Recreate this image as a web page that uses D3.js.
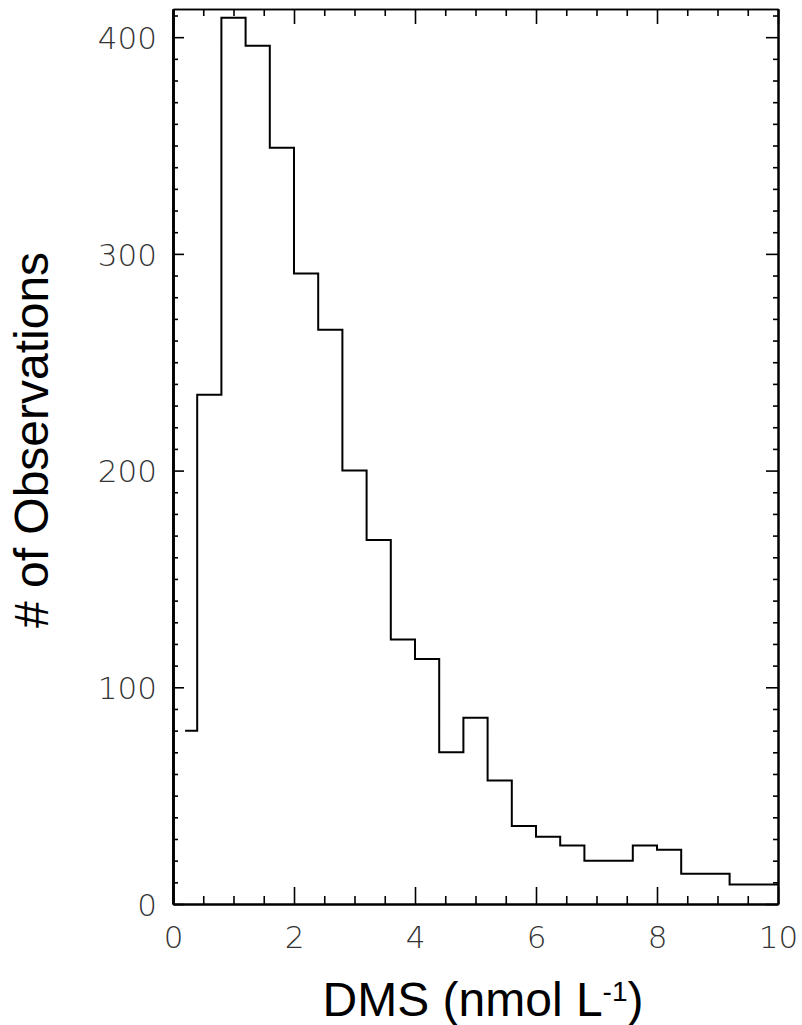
<!DOCTYPE html>
<html>
<head>
<meta charset="utf-8">
<script src="https://cdn.jsdelivr.net/npm/d3@7/dist/d3.min.js"></script>
<style>
  html, body { margin: 0; padding: 0; background: #fff; }
  svg { display: block; }
  .tick-label { font-family: "DejaVu Sans", sans-serif; font-weight: 200; font-size: 31px; fill: #333; }
  .title { font-family: "Liberation Sans", Arial, sans-serif; font-size: 48px; fill: #000; }
</style>
</head>
<body>
<svg id="chart" width="802" height="1025"></svg>
<script>
// DMS concentration histogram: bins of 0.4 nmol/L, counts per bin
const binWidth = 0.4;
const binStarts = [0.0, 0.4, 0.8, 1.2, 1.6, 2.0, 2.4, 2.8, 3.2, 3.6, 4.0, 4.4, 4.8,
                   5.2, 5.6, 6.0, 6.4, 6.8, 7.2, 7.6, 8.0, 8.4, 8.8, 9.2, 9.6];
const counts = [80, 235, 409, 396, 349, 291, 265, 200, 168, 122, 113, 70, 86,
                57, 36, 31, 27, 20, 20, 27, 25, 14, 14, 9, 9];

const xMajorTicks = [0, 2, 4, 6, 8, 10];
const yMajorTicks = [0, 100, 200, 300, 400];
const xDomain = [0, 10];
const yDomain = [0, 413];

const svg = d3.select("#chart");
const plot = { left: 173, right: 778, top: 9, bottom: 904 };

const x = d3.scaleLinear().domain(xDomain).range([plot.left, plot.right]);
const y = d3.scaleLinear().domain(yDomain).range([plot.bottom, plot.top]);

const xMinorTicks = d3.range(0, 10.001, 0.5).filter(v => !xMajorTicks.includes(v));
const yMinorTicks = d3.range(0, 413, 10).filter(v => !yMajorTicks.includes(v));

function styleAxis(g, width) {
  g.select(".domain").attr("stroke", "#000").attr("stroke-width", width);
  g.selectAll(".tick line").attr("stroke", "#000").attr("stroke-width", 1.6);
}

function styleLabels(g, dy) {
  const t = g.selectAll("text").attr("class", "tick-label").attr("fill", null)
    .attr("font-size", null).attr("font-family", null);
  if (dy) t.attr("dy", dy);
}

// bottom axis: labelled majors + minors, ticks pointing inward
const axisBottomG = svg.append("g").attr("transform", `translate(0,${plot.bottom})`);
axisBottomG.append("g")
  .call(d3.axisBottom(x).tickValues(xMinorTicks).tickSize(-8).tickSizeOuter(0).tickFormat(""))
  .call(g => styleAxis(g, 2));
axisBottomG.append("g")
  .call(d3.axisBottom(x).tickValues(xMajorTicks).tickSize(-17).tickSizeOuter(0).tickPadding(22)
    .tickFormat(d3.format("d")))
  .call(g => styleAxis(g, 2))
  .call(g => styleLabels(g));

// top axis: unlabelled
const axisTopG = svg.append("g").attr("transform", `translate(0,${plot.top})`);
axisTopG.append("g")
  .call(d3.axisTop(x).tickValues(xMinorTicks).tickSize(-7).tickSizeOuter(0).tickFormat(""))
  .call(g => styleAxis(g, 1.6));
axisTopG.append("g")
  .call(d3.axisTop(x).tickValues(xMajorTicks).tickSize(-15).tickSizeOuter(0).tickFormat(""))
  .call(g => styleAxis(g, 1.6));

// left axis
const axisLeftG = svg.append("g").attr("transform", `translate(${plot.left},0)`);
axisLeftG.append("g")
  .call(d3.axisLeft(y).tickValues(yMinorTicks).tickSize(-5).tickSizeOuter(0).tickFormat(""))
  .call(g => styleAxis(g, 2.6));
axisLeftG.append("g")
  .call(d3.axisLeft(y).tickValues(yMajorTicks).tickSize(-11).tickSizeOuter(0).tickPadding(16)
    .tickFormat(d3.format("d")))
  .call(g => styleAxis(g, 2.6))
  .call(g => styleLabels(g, "0.36em"));

// right axis: unlabelled
const axisRightG = svg.append("g").attr("transform", `translate(${plot.right},0)`);
axisRightG.append("g")
  .call(d3.axisRight(y).tickValues(yMinorTicks).tickSize(-5).tickSizeOuter(0).tickFormat(""))
  .call(g => styleAxis(g, 2));
axisRightG.append("g")
  .call(d3.axisRight(y).tickValues(yMajorTicks).tickSize(-12).tickSizeOuter(0).tickFormat(""))
  .call(g => styleAxis(g, 2));

// histogram outline as a step line; first step begins at the centre of the first bin
const stepPoints = [];
binStarts.forEach((s, i) => {
  const x0 = i === 0 ? s + binWidth / 2 : s;
  stepPoints.push([x0, counts[i]]);
  stepPoints.push([s + binWidth, counts[i]]);
});

svg.append("path")
  .datum(stepPoints)
  .attr("fill", "none")
  .attr("stroke", "#000")
  .attr("stroke-width", 2)
  .attr("stroke-linejoin", "miter")
  .attr("d", d3.line().x(d => x(d[0])).y(d => y(d[1])));

// axis titles
svg.append("text")
  .attr("class", "title")
  .attr("transform", "translate(48,440) rotate(-90)")
  .attr("text-anchor", "middle")
  .text("# of Observations");

const xt = svg.append("text")
  .attr("class", "title")
  .attr("x", 483)
  .attr("y", 1016)
  .attr("text-anchor", "middle");
xt.append("tspan").text("DMS (nmol L");
xt.append("tspan").attr("font-size", "28px").attr("dy", -15).text("-1");
xt.append("tspan").attr("dy", 15).text(")");
</script>
</body>
</html>
